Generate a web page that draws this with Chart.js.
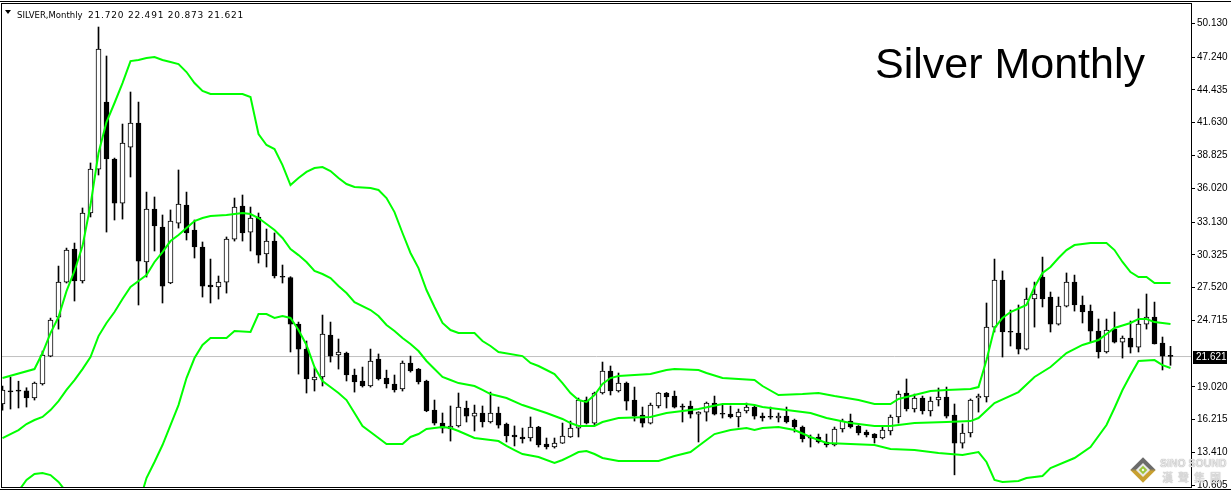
<!DOCTYPE html>
<html>
<head>
<meta charset="utf-8">
<script src="https://cdn.jsdelivr.net/npm/chart.js@4.4.0/dist/chart.umd.min.js"></script>
<style>
  html, body { margin: 0; padding: 0; background: #fff; }
  #wrap { position: relative; width: 1231px; height: 491px; overflow: hidden; }
  #c { position: absolute; left: 0; top: 0; }
  #tri { position: absolute; left: 5px; top: 10px; width: 0; height: 0;
         border-left: 3px solid transparent; border-right: 3px solid transparent; border-top: 4px solid #000; }
  #hdr { position: absolute; left: 17px; top: 7px; line-height: 11px; white-space: pre; color: #000; }
  #hdr .sym { font: 8.5px "DejaVu Sans"; }
  #hdr .ohlc { font: 9px "DejaVu Sans"; letter-spacing: 0.8px; }
  #title { position: absolute; left: 875px; top: 42px; font: 43px "Liberation Sans"; line-height: 43px; color: #000; white-space: pre; }
  #logo { position: absolute; left: 1134px; top: 461px; width: 18px; height: 18px; transform: rotate(45deg);
          background: linear-gradient(135deg, #6b6b6b 0%, #6b6b6b 45%, #c8a030 55%, #c8a030 100%); }
  #logo div { position: absolute; left: 4px; top: 4px; width: 10px; height: 10px; background: #e8e8e8; }
  #logo div div { left: 2px; top: 2px; width: 6px; height: 6px; background: #9bc63a; }
  #logo div div div { left: 2px; top: 2px; width: 2px; height: 2px; background: #fff; }
  #brand { position: absolute; left: 1160px; top: 457px; font: bold 10.5px "Liberation Sans"; color: #e4e4e4;
           text-shadow: 0 0 1px #8a8a8a; white-space: pre; }
  #brandcn { position: absolute; left: 1162px; top: 471px; font: bold 11px "Noto Sans CJK TC"; color: #dcdcdc;
             letter-spacing: 5px; line-height: 13px; white-space: pre; text-shadow: 0 0 1px #b0b0b0; }
</style>
</head>
<body>
<div id="wrap">
  <canvas id="c" width="1231" height="491"></canvas>
  <div id="tri"></div>
  <div id="hdr"></div>
  <div id="title"></div>
  <div id="logo"><div><div><div></div></div></div></div>
  <div id="brand">SiNO SOUND</div>
  <div id="brandcn">漢聲集團</div>
</div>
<script>
// labels
const symbolName = 'SILVER,Monthly';
const chartTitle = 'Silver Monthly';
const tickValues = [50.130, 47.240, 44.435, 41.630, 38.825, 36.020, 33.130, 30.325, 27.520, 24.715, 19.020, 16.215, 13.410, 10.605];

// monthly candles, oldest first
const opens = [17.56,18.65,18.70,18.69,18.09,19.27,21.66,24.99,27.99,30.82,28.08,33.90,37.66,43.39,38.52,34.75,39.54,41.60,29.71,34.24,
  32.70,27.91,33.04,34.58,32.44,30.99,27.74,27.57,27.99,31.67,34.50,32.27,33.56,30.39,31.50,28.45,28.38,24.40,22.26,19.61,
  19.87,23.46,21.75,21.92,20.04,19.53,19.10,21.41,19.78,19.27,18.84,21.07,20.55,19.53,17.04,15.93,15.42,15.68,17.22,16.53,
  16.79,16.02,16.79,15.85,14.91,14.74,14.65,15.59,14.14,13.88,14.22,14.74,15.50,17.90,15.93,18.50,20.38,18.67,19.35,17.90,
  16.62,15.93,17.39,18.50,18.24,17.39,17.39,16.70,16.87,17.64,16.72,16.70,16.45,16.96,17.30,16.53,16.47,16.36,16.53,16.19,
  15.59,14.67,14.74,14.31,14.05,15.42,16.10,15.68,15.16,14.99,14.65,15.25,16.45,18.50,17.13,18.07,16.96,17.90,18.16,16.62,
  14.22,15.08,18.07,18.16,24.14,28.17,23.74,23.63,22.26,26.54,28.42,26.71,24.40,25.94,27.99,26.03,25.51,23.80,22.01,23.97,
  22.86,23.21,22.43,24.40,24.99,22.78,21.720];
const highs = [19.10,19.85,19.51,18.95,19.44,22.09,24.91,29.36,30.90,31.33,34.33,38.18,49.81,47.33,38.60,41.51,44.25,43.39,35.69,35.27,
  33.73,34.16,37.58,35.69,33.30,31.42,29.96,28.51,31.85,35.18,35.44,34.41,33.90,32.53,32.19,29.45,28.45,24.57,22.95,20.64,
  25.17,24.57,23.12,22.00,20.55,20.72,22.26,21.84,20.46,20.04,21.24,21.66,20.60,19.60,17.90,16.79,17.39,18.50,17.81,17.47,
  17.39,18.58,17.30,15.93,15.68,15.50,16.45,15.65,14.65,14.65,15.93,16.10,18.07,18.16,18.58,21.15,20.81,20.21,19.44,19.01,
  17.30,17.64,18.55,18.55,18.67,17.56,17.81,16.90,17.73,18.24,17.47,17.39,17.13,17.64,17.47,16.79,17.30,16.79,17.30,16.27,
  15.68,14.91,14.99,14.99,15.59,16.27,16.70,15.72,15.33,15.03,15.59,16.62,18.67,19.70,18.41,18.24,18.16,18.93,19.01,17.56,
  15.85,17.99,18.41,26.20,29.96,28.94,25.60,26.03,27.48,27.99,30.13,27.14,26.71,28.77,28.59,26.80,26.03,24.83,24.83,25.43,
  23.38,24.66,25.69,26.97,26.28,23.29,22.491];
const lows = [17.04,17.13,17.22,17.30,17.90,19.18,21.60,23.97,27.91,26.37,27.91,33.56,37.15,32.27,33.30,33.38,36.98,26.03,28.42,30.65,
  26.20,27.85,32.61,31.59,30.05,26.71,26.20,26.54,27.05,31.50,31.50,30.65,29.62,29.28,28.34,27.91,22.01,20.12,18.50,18.67,
  19.10,21.15,20.55,19.53,18.58,19.01,19.01,19.61,18.93,18.58,18.67,20.29,19.27,16.90,15.76,15.08,14.39,15.59,16.02,15.25,
  15.59,15.93,15.50,14.31,13.97,14.22,14.39,13.88,13.71,13.79,14.18,14.70,14.74,15.85,15.76,18.41,18.33,18.58,17.04,16.10,
  15.59,15.85,17.22,17.22,17.22,16.02,16.36,14.31,16.10,16.62,16.36,16.36,15.59,16.79,16.27,16.10,16.27,16.02,15.93,15.16,
  14.31,13.88,14.22,13.88,13.97,15.16,15.50,14.91,14.74,14.22,14.57,14.91,15.93,16.96,16.87,16.70,16.53,17.39,16.36,11.50,
  13.79,14.74,16.87,17.73,23.72,21.58,22.52,21.84,22.18,24.14,25.86,23.72,24.31,25.86,25.51,24.49,22.86,21.49,21.92,22.78,
  21.49,21.92,22.01,23.97,22.69,20.47,20.873];
const closes = [18.76,18.60,18.66,18.09,19.35,21.75,24.74,27.99,30.73,28.08,33.90,37.66,47.93,38.52,34.75,39.89,41.60,29.79,34.24,32.79,
  27.65,33.21,34.67,32.19,30.99,27.65,27.57,27.99,31.67,34.41,32.19,33.47,30.30,31.50,28.51,28.40,24.40,22.26,19.70,19.87,
  23.55,21.66,22.01,20.04,19.44,19.10,21.24,19.70,19.27,18.76,21.07,20.38,19.44,16.96,15.93,15.50,15.68,17.30,16.53,16.79,
  16.02,16.79,15.76,14.82,14.74,14.57,15.59,14.05,13.88,14.22,14.82,15.50,17.90,15.93,18.50,20.38,18.67,19.35,17.81,16.53,
  15.93,17.47,18.50,18.16,17.30,17.30,16.70,16.87,17.64,16.70,16.68,16.45,16.87,17.30,16.53,16.36,16.43,16.53,16.02,15.59,
  14.57,14.63,14.31,14.05,15.42,16.10,15.59,15.08,14.91,14.65,15.33,16.45,18.41,17.13,18.07,16.96,17.81,18.16,16.53,14.22,
  15.08,17.90,18.24,24.14,28.17,23.72,23.70,22.26,26.54,26.97,26.54,24.40,25.94,27.99,26.03,25.43,23.80,22.01,23.89,22.86,
  23.21,22.43,24.40,24.99,22.69,21.66,21.621];

// Bollinger bands: [candle index, price]
const upperBand = [[0,19.78],[4,20.55],[5,21.92],[6,23.63],[7,25.00],[8,27.22],[9,28.94],[10,31.07],[11,34.58],[12,39.03],
  [13,41.68],[14,43.31],[15,45.02],[16,46.90],[17,46.99],[18,47.16],[19,47.24],[20,46.99],[21,46.82],[22,46.64],[23,45.96],
  [24,45.02],[25,44.34],[26,44.08],[30,44.08],[31,43.82],[32,40.66],[33,39.72],[34,39.37],[35,38.00],[36,36.29],[37,36.89],
  [38,37.41],[39,37.75],[40,37.83],[41,37.49],[42,36.89],[43,36.38],[44,36.12],[46,36.04],[47,35.87],[48,35.18],[49,33.98],
  [50,32.19],[51,30.48],[52,29.19],[53,27.31],[54,25.86],[55,24.49],[56,23.89],[57,23.63],[59,23.63],[60,22.95],[61,22.52],
  [62,22.01],[65,21.66],[66,21.07],[67,20.81],[68,20.47],[69,20.12],[70,19.35],[71,18.50],[72,17.90],[73,17.73],[74,18.33],
  [75,19.27],[76,19.78],[77,19.95],[79,20.04],[81,20.12],[83,20.47],[84,20.55],[87,20.47],[88,20.21],[90,19.78],[94,19.61],
  [95,19.10],[97,18.33],[100,18.41],[102,18.50],[104,18.24],[107,17.90],[109,17.56],[111,17.56],[112,17.99],[114,18.33],
  [116,18.67],[118,18.76],[121,18.84],[122,19.01],[123,21.32],[124,24.06],[125,24.92],[126,25.43],[128,26.03],[129,27.57],
  [130,28.77],[131,29.28],[132,30.05],[133,30.73],[134,31.16],[136,31.33],[138,31.33],[139,30.73],[140,29.71],[141,28.85],
  [142,28.42],[143,28.42],[144,27.91],[145,27.91],[146,27.91]];
const middleBand = [[0,14.65],[1,14.99],[2,15.33],[3,15.85],[4,16.19],[5,16.45],[6,17.04],[7,17.80],[8,18.76],[9,19.61],
  [10,20.55],[11,21.58],[12,23.37],[13,24.49],[14,25.43],[15,26.54],[16,27.57],[17,28.08],[18,28.59],[19,29.71],[20,30.56],
  [21,31.50],[22,32.02],[23,32.61],[24,33.21],[25,33.47],[26,33.64],[28,33.73],[30,33.90],[31,33.81],[32,33.47],[33,32.96],
  [34,32.44],[35,31.76],[36,30.82],[37,30.30],[38,29.71],[39,28.94],[40,28.68],[41,28.34],[42,27.65],[43,27.05],[44,26.28],
  [46,25.60],[47,25.09],[48,24.32],[49,23.80],[50,23.20],[51,22.69],[52,22.09],[53,21.24],[54,20.55],[55,19.87],[56,19.61],
  [57,19.35],[59,19.10],[60,18.76],[61,18.41],[63,18.07],[65,17.47],[68,16.79],[70,16.28],[71,15.93],[72,15.68],[74,15.68],
  [75,16.02],[77,16.36],[81,16.45],[83,16.79],[87,17.13],[90,17.56],[93,17.56],[94,17.47],[95,17.30],[97,17.13],[101,16.79],
  [103,16.36],[106,15.93],[109,15.68],[111,15.68],[114,15.93],[118,16.02],[121,16.10],[122,16.36],[124,17.64],[127,18.58],
  [129,19.87],[131,20.72],[133,21.92],[135,22.61],[137,23.03],[139,24.06],[141,24.49],[142,24.83],[143,24.83],[144,24.57],
  [146,24.40]];
const lowerBand = [[2,10.12],[3,11.06],[4,11.57],[5,11.66],[6,11.48],[7,10.89],[8,10.03],[17,8.92],[18,11.23],[19,12.60],
  [20,14.05],[21,15.76],[22,17.47],[23,19.78],[24,21.49],[25,22.61],[26,23.20],[28,23.20],[29,23.80],[31,23.72],[32,25.26],
  [33,25.26],[34,24.92],[35,25.09],[36,24.92],[37,23.89],[38,22.61],[39,20.72],[40,19.53],[41,19.01],[42,18.50],[43,17.90],
  [44,16.79],[45,15.68],[46,15.16],[47,14.65],[48,14.14],[50,14.14],[51,14.74],[52,14.99],[53,15.42],[55,15.59],[56,15.51],
  [57,15.25],[59,14.65],[61,14.48],[62,14.39],[63,13.97],[64,13.62],[65,13.28],[67,13.02],[69,12.51],[70,12.77],[71,13.11],
  [72,13.45],[73,13.54],[74,13.28],[75,12.94],[77,12.68],[82,12.68],[84,13.11],[86,13.45],[87,13.97],[88,14.48],[89,14.99],
  [91,15.33],[93,15.51],[94,15.33],[95,15.51],[97,15.59],[99,15.33],[101,14.74],[103,14.22],[106,14.14],[109,14.05],
  [111,13.71],[114,13.62],[117,13.37],[120,13.20],[122,13.45],[123,12.60],[124,11.06],[125,10.89],[127,10.97],[128,11.23],
  [130,11.40],[131,12.08],[134,12.94],[136,13.88],[138,15.76],[139,17.22],[140,18.76],[141,20.04],[142,21.24],[144,21.32],
  [145,20.89],[146,20.64]];

const n = opens.length;
const last = n - 1;
const idx = opens.map((_, i) => i);
const toPts = pairs => pairs.map(([x, y]) => ({ x, y }));

document.getElementById('hdr').innerHTML =
  '<span class="sym">' + symbolName + '  </span><span class="ohlc">' +
  [opens[last], highs[last], lows[last], closes[last]].map(v => v.toFixed(3)).join(' ') + '</span>';
document.getElementById('title').textContent = chartTitle;

// frame + last price box
const framePlugin = {
  id: 'frame',
  afterDraw(chart) {
    const { ctx, chartArea: a, scales: { y } } = chart;
    ctx.save();
    ctx.fillStyle = '#000';
    ctx.fillRect(0, 1, chart.width, 1);
    ctx.fillRect(0, 489, chart.width, 1);
    ctx.strokeStyle = '#000';
    ctx.lineWidth = 1;
    ctx.strokeRect(a.left - 0.5, a.top - 0.5, a.right - a.left + 1, a.bottom - a.top + 1);
    const py = Math.round(y.getPixelForValue(closes[last]));
    ctx.fillStyle = '#000';
    ctx.fillRect(a.right + 2, py - 6, 34, 13);
    ctx.fillStyle = '#fff';
    ctx.font = '10px "Liberation Sans"';
    ctx.textBaseline = 'middle';
    ctx.fillText(closes[last].toFixed(3), a.right + 5, py + 0.5);
    ctx.restore();
  }
};

const green = '#00ff00';
const bandDs = (data) => ({
  type: 'line', data: toPts(data), borderColor: green, borderWidth: 2,
  pointRadius: 0, tension: 0, order: 0, fill: false
});

new Chart(document.getElementById('c'), {
  type: 'bar',
  data: {
    datasets: [
      bandDs(upperBand),
      bandDs(middleBand),
      bandDs(lowerBand),
      {
        type: 'bar', order: 1, grouped: false, barThickness: 5, minBarLength: 1,
        data: idx.map(i => ({ x: i, y: [Math.min(opens[i], closes[i]), Math.max(opens[i], closes[i])] })),
        backgroundColor: idx.map(i => closes[i] >= opens[i] ? '#ffffff' : '#000000'),
        borderColor: '#000', borderWidth: 1, borderSkipped: false
      },
      {
        type: 'bar', order: 2, grouped: false, barThickness: 1,
        data: idx.map(i => ({ x: i, y: [lows[i], highs[i]] })),
        backgroundColor: '#000', borderWidth: 0
      },
      {
        type: 'line', order: 3, data: [{ x: -1, y: closes[last] }, { x: 150, y: closes[last] }],
        borderColor: '#c0c0c0', borderWidth: 1, pointRadius: 0
      }
    ]
  },
  options: {
    responsive: false,
    animation: false,
    devicePixelRatio: 1,
    layout: { padding: { left: 2, top: 4, bottom: 4, right: 0 } },
    plugins: { legend: { display: false }, tooltip: { enabled: false } },
    scales: {
      x: { type: 'linear', display: false, offset: false, min: -0.0625, max: 148.5625 },
      y: {
        position: 'right', min: 10.46, max: 51.78,
        afterBuildTicks: s => { s.ticks = tickValues.map(v => ({ value: v })); },
        afterFit: s => { s.width = 40; s.paddingTop = 0; s.paddingBottom = 0; },
        border: { display: false },
        grid: { drawOnChartArea: false, drawTicks: true, tickLength: 4, color: '#000' },
        ticks: {
          autoSkip: false, padding: 2, color: '#000',
          font: { family: 'Liberation Sans', size: 10 },
          callback: v => v.toFixed(3)
        }
      }
    }
  },
  plugins: [framePlugin]
});
</script>
</body>
</html>
